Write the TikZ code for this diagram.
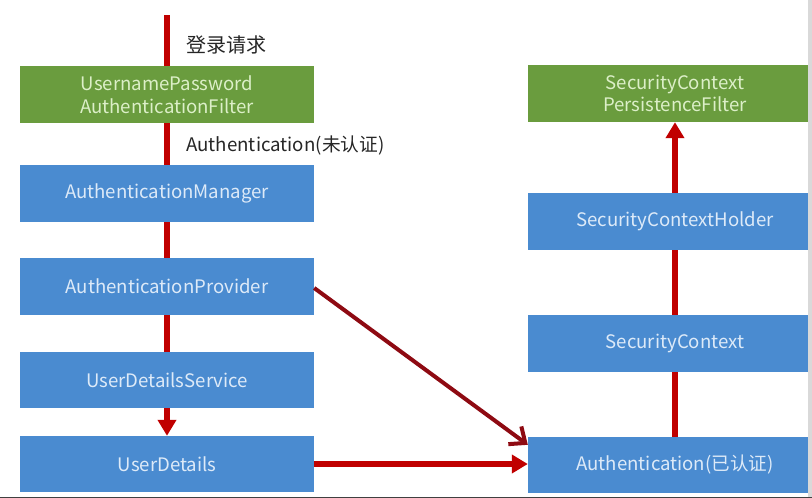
\documentclass[tikz,border=0pt]{standalone}
\usepackage{fontspec}
\setmainfont{Noto Sans CJK SC}
\usetikzlibrary{arrows.meta,calc}
\definecolor{boxgreen}{HTML}{6A9C3E}
\definecolor{boxblue}{HTML}{4A8BD0}
\definecolor{txtgreen}{HTML}{DCEFC8}
\definecolor{txtblue}{HTML}{DDEAF8}
\definecolor{flowred}{HTML}{C00000}
\definecolor{diagred}{HTML}{8E0A12}
\tikzset{
  gbox/.style={rectangle,fill=boxgreen,draw=none,text=txtgreen,font=\fontsize{18.6}{22.5}\selectfont,align=center,inner sep=0pt},
  bbox/.style={rectangle,fill=boxblue,draw=none,text=txtblue,font=\fontsize{18.6}{22.5}\selectfont,align=center,inner sep=0pt},
  leftbox/.style={minimum width=294pt,minimum height=57pt},
  rightbox/.style={minimum width=294pt,minimum height=57pt},
  flow/.style={draw=flowred,line width=6pt},
  flowarrow/.style={flow,-{Triangle[width=18pt,length=16pt]}},
  diag/.style={draw=diagred,line width=4pt,-{Straight Barb[length=13pt,width=22pt]}},
  lbl/.style={anchor=west,inner sep=0pt,text=black!85}
}
\begin{document}
\begin{tikzpicture}[x=1pt,y=-1pt]
\useasboundingbox (0,0) rectangle (812,498);
\fill[white] (0,0) rectangle (812,498);
% left column
\node[gbox,leftbox] (upaf) at (167,94.5) {UsernamePassword\\AuthenticationFilter};
\node[bbox,leftbox] (am) at (167,193.5) {AuthenticationManager};
\node[bbox,leftbox] (ap) at (167,286.5) {AuthenticationProvider};
\node[bbox,leftbox,minimum height=56pt] (uds) at (167,380) {UserDetailsService};
\node[bbox,leftbox,minimum height=56pt] (ud) at (167,464) {UserDetails};
% right column (clipped at the right edge)
\begin{scope}
\clip (0,0) rectangle (808,498);
\node[gbox,rightbox] (scpf) at (675,93.5) {SecurityContext\\PersistenceFilter};
\node[bbox,rightbox] (sch) at (675,221.5) {SecurityContextHolder};
\node[bbox,rightbox] (sc) at (675,343.5) {SecurityContext};
\node[bbox,rightbox,minimum height=56pt] (auth) at (675,465) {Authentication(已认证)};
\end{scope}
\fill[black!15] (808,0) rectangle (812,498);
\fill[black!75] (0,496.5) rectangle (812,498);
% labels
\coordinate (start) at (167,15);
\node[lbl,font=\fontsize{20}{24}\selectfont] (req) at (186,45) {登录请求};
\node[lbl,font=\fontsize{18.7}{22}\selectfont] (unauth) at (186,145) {Authentication(未认证)};
% connectors
\draw[flow] (start) -- (upaf.north);
\draw[flow] (upaf.south) -- (am.north);
\draw[flow] (am.south) -- (ap.north);
\draw[flow] (ap.south) -- (uds.north);
\draw[flowarrow] (uds.south) -- (ud.north);
\draw[flowarrow] (ud.east) -- (auth.west |- ud.east);
\draw[diag] ($(ap.east)+(0,1.5)$) -- ($(auth.north west)+(0,8)$);
\draw[flow] (auth.north) -- (sc.south);
\draw[flow] (sc.north) -- (sch.south);
\draw[flowarrow] (sch.north) -- (scpf.south);
\end{tikzpicture}
\end{document}
